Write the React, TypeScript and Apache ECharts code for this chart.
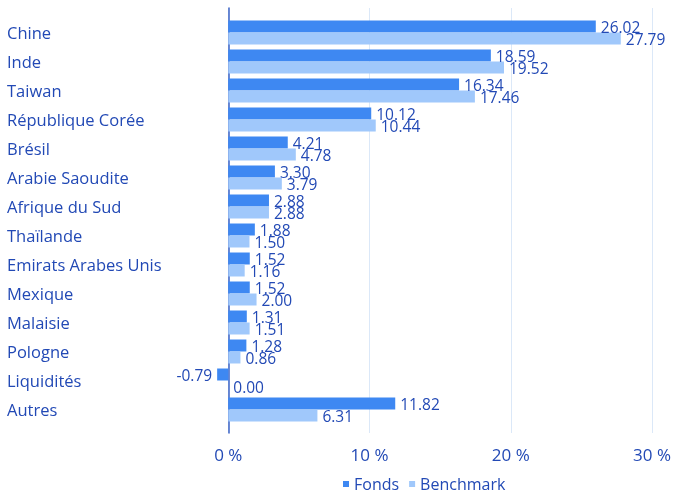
import React, { useEffect, useRef } from "react";
import * as echarts from "echarts";

const categories = [
  "Chine",
  "Inde",
  "Taiwan",
  "République Corée",
  "Brésil",
  "Arabie Saoudite",
  "Afrique du Sud",
  "Thaïlande",
  "Emirats Arabes Unis",
  "Mexique",
  "Malaisie",
  "Pologne",
  "Liquidités",
  "Autres",
];
const fonds = [26.02, 18.59, 16.34, 10.12, 4.21, 3.3, 2.88, 1.88, 1.52, 1.52, 1.31, 1.28, -0.79, 11.82];
const benchmark = [27.79, 19.52, 17.46, 10.44, 4.78, 3.79, 2.88, 1.5, 1.16, 2.0, 1.51, 0.86, 0.0, 6.31];
const xTicks = [0, 10, 20, 30];

const TEXT = "#2249b5";
const FONT = "'Open Sans', 'Noto Sans', sans-serif";
const DARK = "#3e88f2";
const LIGHT = "#a0c8fb";

export default function App() {
  const ref = useRef<HTMLDivElement>(null);
  useEffect(() => {
    const chart = echarts.init(ref.current!, null, { renderer: "svg" });
    const xMin = -0.8;
    const xMax = 30;
    const mk = (vals: number[]) =>
      vals.map((v) => (v < 0 ? { value: v, label: { position: "left" } } : v));
    const labelCfg = {
      show: true,
      position: "right",
      distance: 5,
      color: TEXT,
      fontFamily: FONT,
      fontSize: 15.5,
      formatter: (p: any) => Number(p.value).toFixed(2),
    };
    chart.setOption({
      animation: false,
      grid: [
        { left: 217, right: 26, top: 18, height: 406 },
        { left: 217, right: 26, top: 8, height: 425 },
      ],
      xAxis: [
        { type: "value", gridIndex: 0, min: xMin, max: xMax, show: false },
        {
          type: "value",
          gridIndex: 1,
          min: xMin,
          max: xMax,
          axisLine: { show: false },
          axisTick: { show: false, customValues: xTicks },
          splitLine: { show: true, lineStyle: { color: "#dbe8f8", width: 1 } },
          axisLabel: {
            customValues: xTicks,
            formatter: (v: number) => `${v} %`,
            color: TEXT,
            fontFamily: FONT,
            fontSize: 17,
            margin: 13,
          },
        },
      ],
      yAxis: [
        {
          type: "category",
          gridIndex: 0,
          data: categories,
          inverse: true,
          axisLine: { show: false },
          axisTick: { show: false },
          axisLabel: {
            align: "left",
            margin: 210,
            color: TEXT,
            fontFamily: FONT,
            fontSize: 16.5,
          },
        },
        {
          type: "value",
          gridIndex: 1,
          min: 0,
          max: 1,
          axisLine: { show: true, onZero: true, lineStyle: { color: "#3b63c6", width: 1.5 } },
          axisTick: { show: false },
          axisLabel: { show: false },
          splitLine: { show: false },
        },
      ],
      legend: {
        data: ["Fonds", "Benchmark"],
        left: 338,
        bottom: 1,
        icon: "rect",
        itemWidth: 6,
        itemHeight: 6,
        itemGap: 10,
        textStyle: { color: TEXT, fontFamily: FONT, fontSize: 16 },
      },
      series: [
        {
          name: "Fonds",
          type: "bar",
          xAxisIndex: 0,
          yAxisIndex: 0,
          data: mk(fonds),
          barWidth: 12,
          barGap: "0%",
          itemStyle: { color: DARK },
          label: labelCfg,
        },
        {
          name: "Benchmark",
          type: "bar",
          xAxisIndex: 0,
          yAxisIndex: 0,
          data: mk(benchmark),
          barWidth: 12,
          barGap: "0%",
          itemStyle: { color: LIGHT },
          label: labelCfg,
        },
      ],
    });
    return () => chart.dispose();
  }, []);
  return <div ref={ref} style={{ width: 678, height: 498, position: "fixed", left: 0, top: 0 }} />;
}
